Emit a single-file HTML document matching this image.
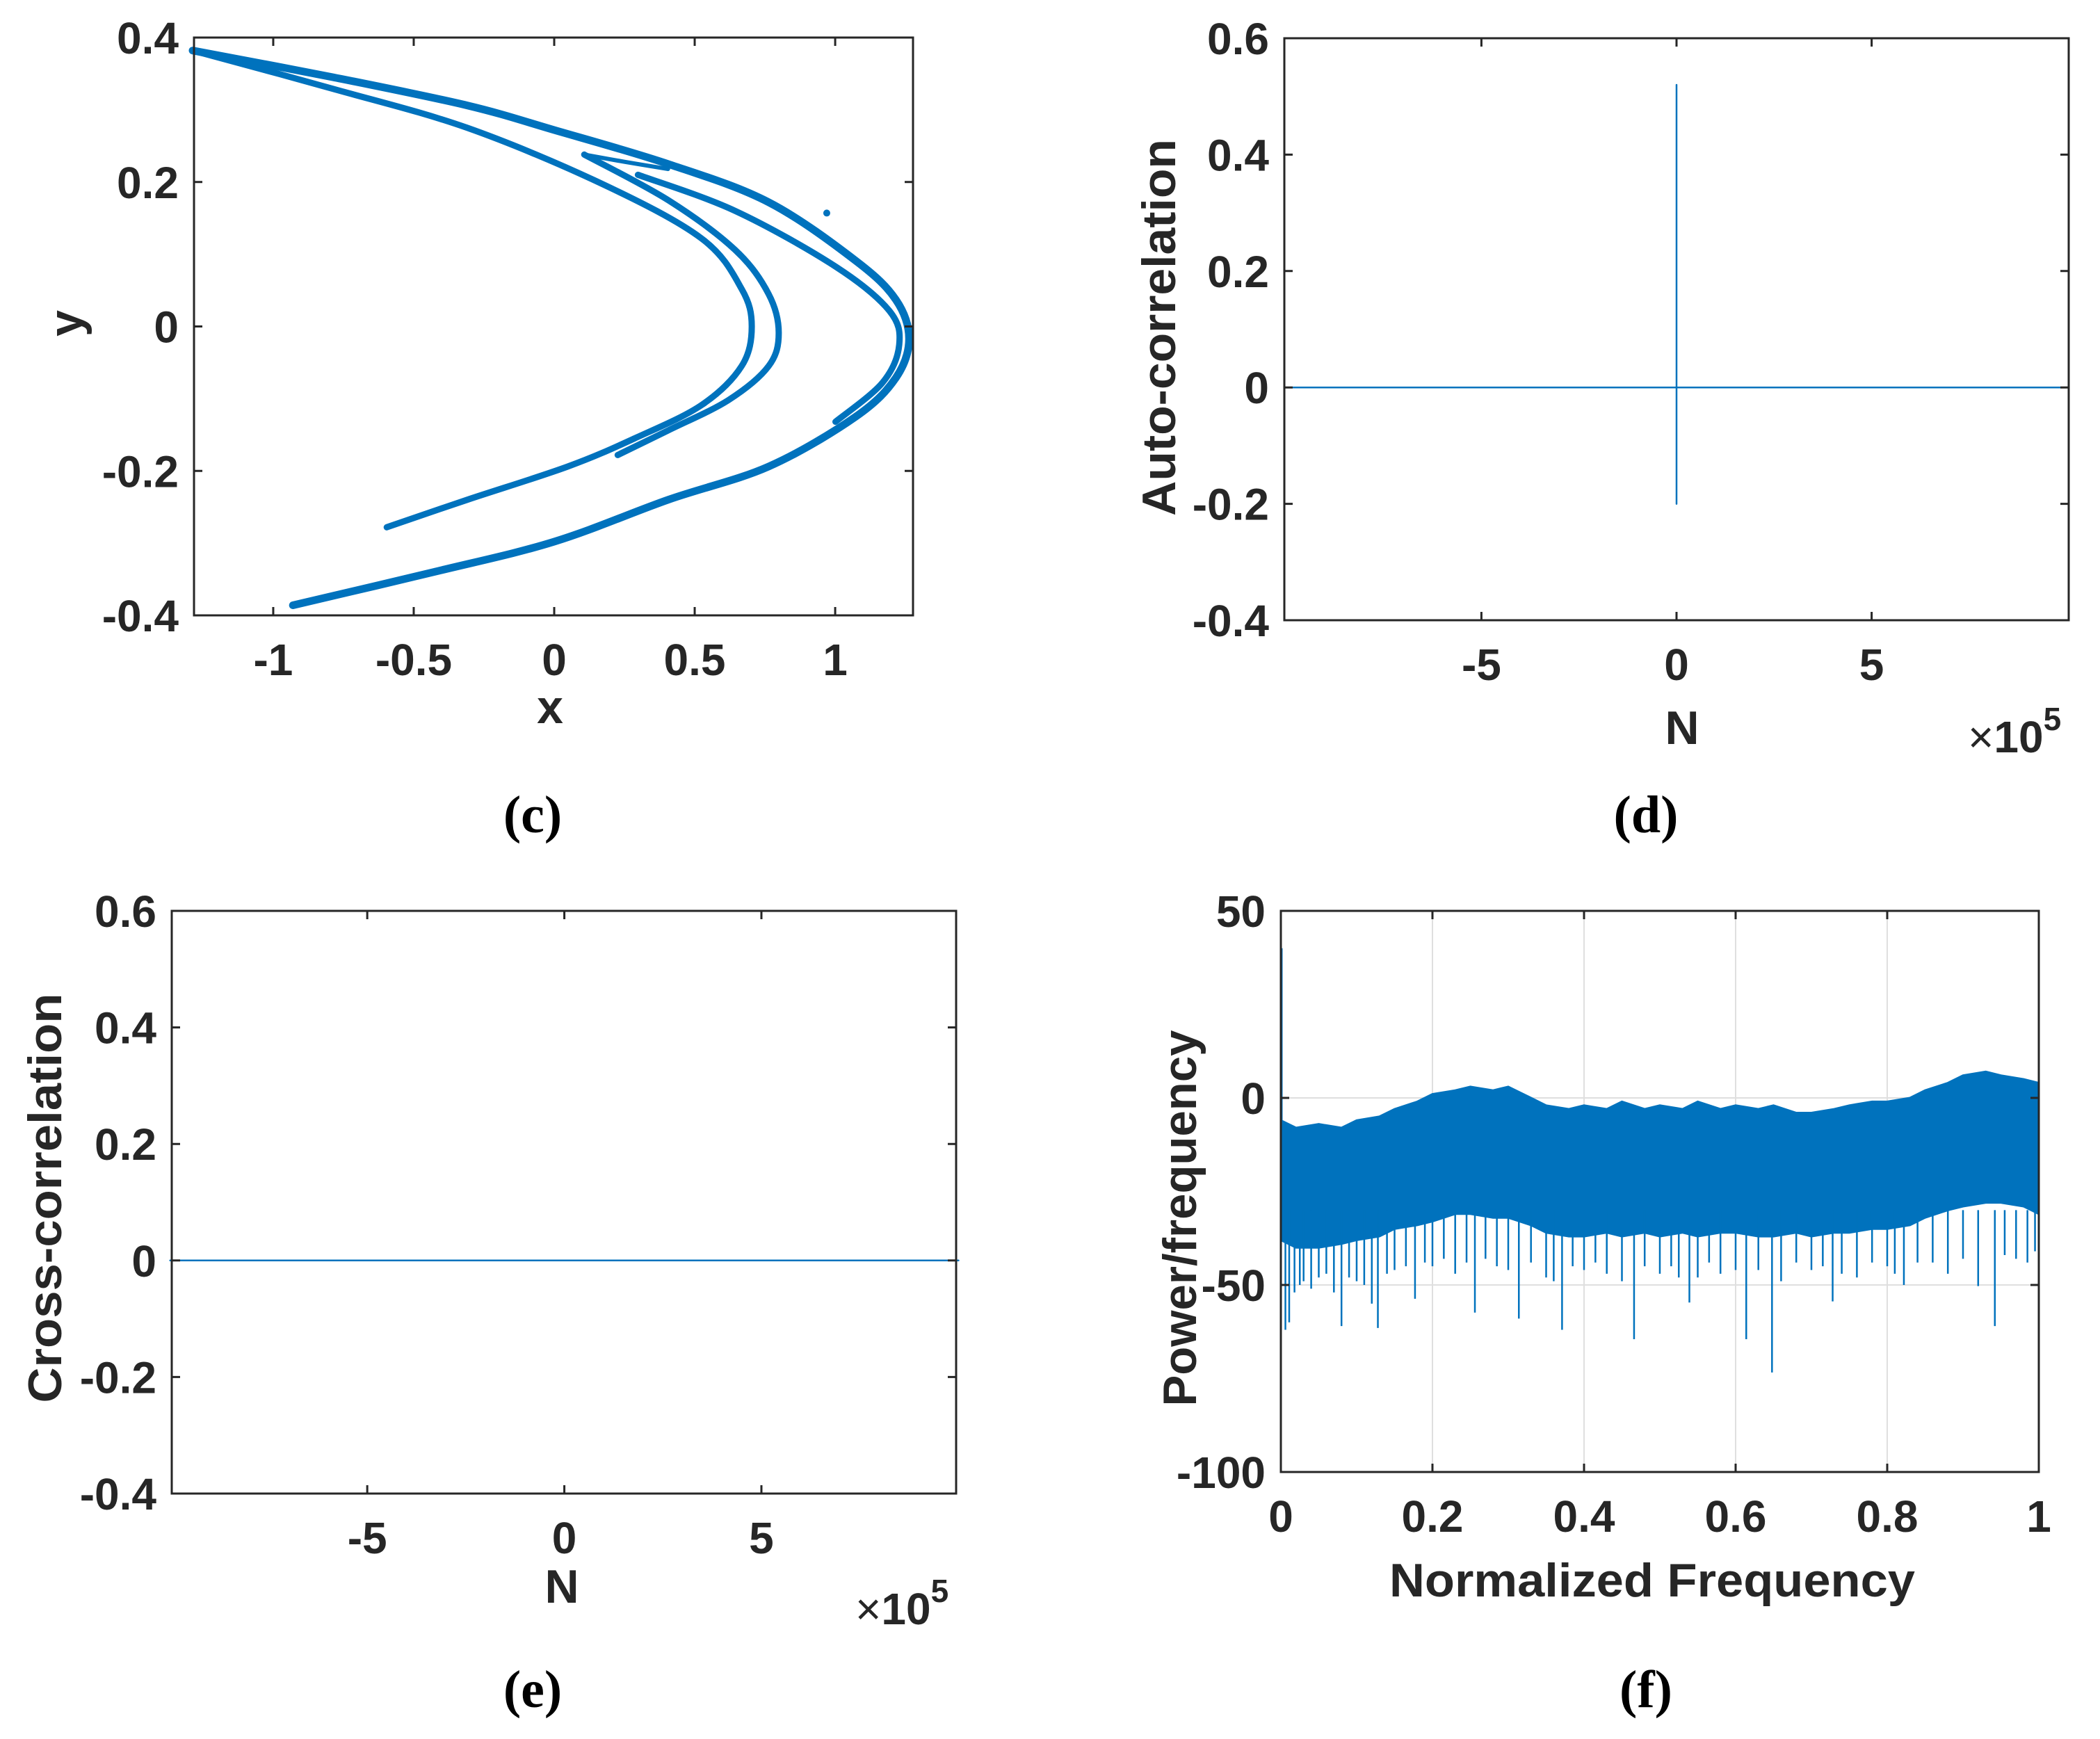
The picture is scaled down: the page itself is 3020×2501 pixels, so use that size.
<!DOCTYPE html>
<html>
<head>
<meta charset="utf-8">
<style>
html,body{margin:0;padding:0;background:#fff;}
svg{display:block;}
.tick{font-family:"Liberation Sans",sans-serif;font-weight:bold;font-size:64px;fill:#262626;}
.alab{font-family:"Liberation Sans",sans-serif;font-weight:bold;font-size:68px;fill:#262626;}
.plab{font-family:"Liberation Serif",serif;font-weight:bold;font-size:76px;fill:#000;}
</style>
</head>
<body>
<svg id="fig" xmlns="http://www.w3.org/2000/svg" width="3020" height="2501" viewBox="0 0 3020 2501">
<rect x="0" y="0" width="3020" height="2501" fill="#fff"/>
</svg>
<script>
// ---------- data ----------
var outerBranch = [[-1.287,0.382],[-0.787,0.345],[-0.31,0.306],[0,0.272],[0.405,0.225],[0.763,0.172],[1.073,0.091],[1.216,0.037],[1.263,-0.017],[1.216,-0.071],[1.073,-0.125],[0.763,-0.194],[0.405,-0.24],[0,-0.298],[-0.429,-0.34],[-0.93,-0.386]];
var innerBranch = [[-1.287,0.382],[-0.787,0.329],[-0.31,0.275],[0.167,0.198],[0.524,0.122],[0.667,0.052],[0.703,0],[0.667,-0.055],[0.524,-0.109],[0.286,-0.155],[0.048,-0.194],[-0.31,-0.24],[-0.596,-0.278]];
var foldBranch = [[0.107,0.238],[0.405,0.175],[0.644,0.106],[0.763,0.045],[0.799,-0.009],[0.763,-0.055],[0.62,-0.102],[0.405,-0.144],[0.226,-0.178]];
var foldTop = [[0.107,0.238],[0.25,0.228],[0.405,0.218]];
var secondOuter = [[0.298,0.21],[0.644,0.16],[1.001,0.083],[1.192,0.022],[1.228,-0.025],[1.168,-0.078],[1.001,-0.132]];
var strayPoints = [[0.97,0.157]];
var cXTicks = [-1,-0.5,0,0.5,1];
var cXTickLabels = ["-1","-0.5","0","0.5","1"];
var cYTicks = [-0.4,-0.2,0,0.2,0.4];
var cYTickLabels = ["-0.4","-0.2","0","0.2","0.4"];

var autoLags = [-10.05,0,0,0,0,10.05];
var autoValues = [0,0,0.52,-0.2,0,0];
var corrXTicks = [-5,0,5];
var corrXTickLabels = ["-5","0","5"];
var corrYTicks = [-0.4,-0.2,0,0.2,0.4,0.6];
var corrYTickLabels = ["-0.4","-0.2","0","0.2","0.4","0.6"];

var crossLags = [-10,-5,0,5,10];
var crossValues = [0,0,0,0,0];

var psdFreq = [0,0.02,0.05,0.08,0.1,0.13,0.15,0.18,0.2,0.23,0.25,0.28,0.3,0.33,0.35,0.38,0.4,0.43,0.45,0.48,0.5,0.53,0.55,0.58,0.6,0.63,0.65,0.68,0.7,0.73,0.75,0.78,0.8,0.83,0.85,0.88,0.9,0.93,0.95,0.98,1];
var psdUpper = [-6,-8,-7,-8,-6,-5,-3,-1,1,2,3,2,3,0,-2,-3,-2,-3,-1,-3,-2,-3,-1,-3,-2,-3,-2,-4,-4,-3,-2,-1,-1,0,2,4,6,7,6,5,4];
var psdLower = [-38,-40,-40,-39,-38,-37,-35,-34,-33,-31,-31,-32,-32,-34,-36,-37,-37,-36,-37,-36,-37,-36,-37,-36,-36,-37,-37,-36,-37,-36,-36,-35,-35,-34,-32,-30,-29,-28,-28,-29,-31];
var spikeFreq = [0.006,0.011,0.018,0.025,0.03,0.04,0.05,0.06,0.07,0.08,0.09,0.1,0.11,0.12,0.128,0.14,0.15,0.165,0.177,0.19,0.2,0.215,0.23,0.245,0.256,0.27,0.285,0.3,0.314,0.33,0.35,0.36,0.371,0.385,0.4,0.415,0.43,0.45,0.466,0.48,0.5,0.515,0.525,0.539,0.55,0.565,0.58,0.6,0.614,0.63,0.648,0.66,0.68,0.7,0.715,0.728,0.74,0.76,0.78,0.8,0.81,0.822,0.84,0.86,0.88,0.9,0.92,0.942,0.955,0.97,0.985,0.995];
var spikeValue = [-62,-60,-52,-50,-49,-51,-48,-47,-52,-61,-48,-49,-50,-55,-61.5,-47,-46,-45,-53.7,-44,-45,-43,-47,-44,-57.4,-43,-45,-46,-59,-44,-48,-49,-62,-45,-46,-44,-47,-49,-64.5,-45,-47,-45,-48,-54.7,-48,-44,-47,-46,-64.5,-46,-73.4,-49,-44,-46,-45,-54.4,-47,-48,-44,-45,-47,-50,-44,-44,-47,-43,-50.3,-61,-42,-43,-44,-41];
var dcSpike = [0,40];
var fXTicks = [0,0.2,0.4,0.6,0.8,1];
var fXTickLabels = ["0","0.2","0.4","0.6","0.8","1"];
var fYTicks = [-100,-50,0,50];
var fYTickLabels = ["-100","-50","0","50"];

// ---------- drawing ----------
var NS = "http://www.w3.org/2000/svg";
var svg = document.getElementById('fig');
var BLUE = "#0072BD", INK = "#262626";
function mk(tag, attrs, parent){
  var e = document.createElementNS(NS, tag);
  for (var k in attrs) e.setAttribute(k, attrs[k]);
  (parent||svg).appendChild(e);
  return e;
}
function scale(d0,d1,p0,p1){ return function(v){ return p0 + (v-d0)/(d1-d0)*(p1-p0); }; }

function gridLines(g, L,T,R,B, sx, sy, xt, yt){
  var i, e;
  for (i=0;i<xt.length;i++){
    e = mk('line',{x1:sx(xt[i]),x2:sx(xt[i]),y1:T,y2:B,stroke:"#dfdfdf","stroke-width":2},g);
    
    
  }
  for (i=0;i<yt.length;i++){
    e = mk('line',{x1:L,x2:R,y1:sy(yt[i]),y2:sy(yt[i]),stroke:"#dfdfdf","stroke-width":2},g);
    
    
  }
}
function axesBox(g, L,T,R,B, sx, sy, xt, xtl, yt, ytl){
  var i, e;
  e = mk('rect',{x:L,y:T,width:R-L,height:B-T,fill:"none",stroke:INK,"stroke-width":3},g);
  
  
  for (i=0;i<xt.length;i++){
    var x = sx(xt[i]);
    e = mk('path',{d:"M"+x+" "+B+"V"+(B-12)+"M"+x+" "+T+"V"+(T+12),stroke:INK,"stroke-width":3,fill:"none"},g);
    
    
    e = mk('text',{x:x,y:B+86,"text-anchor":"middle","class":"tick"},g);
    e.textContent = xtl[i];
    
    
  }
  for (i=0;i<yt.length;i++){
    var y = sy(yt[i]);
    e = mk('path',{d:"M"+L+" "+y+"H"+(L+12)+"M"+R+" "+y+"H"+(R-12),stroke:INK,"stroke-width":3,fill:"none"},g);
    
    
    e = mk('text',{x:L-22,y:y+23,"text-anchor":"end","class":"tick"},g);
    e.textContent = ytl[i];
    
    
  }
}
function txt(g, s, x, y, cls, rot, len){
  var a = {x:x,y:y,"text-anchor":"middle","class":cls};
  if (rot) a.transform = "rotate(-90 "+x+" "+y+")";
  if (len){ a.textLength = len; a.lengthAdjust = "spacingAndGlyphs"; }
  var e = mk('text',a,g);
  e.textContent = s;
  return e;
}
function poly(g, pts, sx, sy, w){
  var d = pts.map(function(p,i){ return (i?"L":"M")+sx(p[0]).toFixed(1)+" "+sy(p[1]).toFixed(1); }).join("");
  return mk('path',{d:d,fill:"none",stroke:BLUE,"stroke-width":w,"stroke-linecap":"round","stroke-linejoin":"round"},g);
}
function smooth(g, pts, sx, sy, w){
  var P = pts.map(function(p){ return [sx(p[0]), sy(p[1])]; });
  var d = "M"+P[0][0].toFixed(1)+" "+P[0][1].toFixed(1);
  for (var i=0;i<P.length-1;i++){
    var p0 = P[i>0?i-1:i], p1 = P[i], p2 = P[i+1], p3 = P[i+2<P.length?i+2:i+1];
    var c1x = p1[0]+(p2[0]-p0[0])/6, c1y = p1[1]+(p2[1]-p0[1])/6;
    var c2x = p2[0]-(p3[0]-p1[0])/6, c2y = p2[1]-(p3[1]-p1[1])/6;
    d += "C"+c1x.toFixed(1)+" "+c1y.toFixed(1)+" "+c2x.toFixed(1)+" "+c2y.toFixed(1)+" "+p2[0].toFixed(1)+" "+p2[1].toFixed(1);
  }
  return mk('path',{d:d,fill:"none",stroke:BLUE,"stroke-width":w,"stroke-linecap":"round","stroke-linejoin":"round"},g);
}

// ===== panel c =====
(function(){
  var L=279,T=54,R=1313,B=885;
  var g = mk('g',{});
  
  
  var sx = scale(-1.282,1.277,L,R), sy = scale(-0.4,0.4,B,T);
  var e;
  e = smooth(g, outerBranch, sx, sy, 11);
  
  
  e = smooth(g, secondOuter, sx, sy, 9);
  
  
  e = smooth(g, innerBranch, sx, sy, 9);
  
  
  e = smooth(g, foldBranch, sx, sy, 9);
  
  
  e = smooth(g, foldTop, sx, sy, 6);
  
  
  strayPoints.forEach(function(p){
    var c = mk('circle',{cx:sx(p[0]),cy:sy(p[1]),r:5,fill:BLUE},g);
    
    
  });
  axesBox(g,L,T,R,B,sx,sy,cXTicks,cXTickLabels,cYTicks,cYTickLabels);
  e = txt(g,"x",791,1040,"alab");
  
  
  e = txt(g,"y",118,465,"alab",true);
  
  
  e = txt(g,"(c)",766,1197,"plab");
  
  
})();

// ===== panel d =====
(function(){
  var L=1847,T=55,R=2975,B=892;
  var g = mk('g',{});
  
  
  var sx = scale(-10.05,10.05,L,R), sy = scale(-0.4,0.6,B,T);
  var pts = autoLags.map(function(v,i){ return [v, autoValues[i]]; });
  var e = poly(g, pts, sx, sy, 2.5);
  e.setAttribute('stroke-linecap','butt');
  
  
  axesBox(g,L,T,R,B,sx,sy,corrXTicks,corrXTickLabels,corrYTicks,corrYTickLabels);
  e = txt(g,"N",2419,1070,"alab");
  
  
  e = txt(g,"Auto-correlation",1690,471,"alab",true,542);
  
  
  e = mk('text',{x:2830,y:1082,"class":"tick"},g);
  e.innerHTML = '<tspan style="font-weight:normal">\u00d7</tspan>10<tspan dy="-32" font-size="46">5</tspan>';
  
  
  e = txt(g,"(d)",2367,1197,"plab");
  
  
})();

// ===== panel e =====
(function(){
  var L=247,T=1310,R=1375,B=2148;
  var g = mk('g',{});
  
  
  var sx = scale(-9.96,9.94,L,R), sy = scale(-0.4,0.6,B,T);
  var pts = crossLags.map(function(v,i){ return [v, crossValues[i]]; });
  var e = poly(g, pts, sx, sy, 2.5);
  
  
  axesBox(g,L,T,R,B,sx,sy,corrXTicks,corrXTickLabels,corrYTicks,corrYTickLabels);
  e = txt(g,"N",808,2305,"alab");
  
  
  e = txt(g,"Cross-correlation",88,1723,"alab",true,589);
  
  
  e = mk('text',{x:1230,y:2336,"class":"tick"},g);
  e.innerHTML = '<tspan style="font-weight:normal">\u00d7</tspan>10<tspan dy="-32" font-size="46">5</tspan>';
  
  
  e = txt(g,"(e)",766,2455,"plab");
  
  
})();

// ===== panel f =====
(function(){
  var L=1842,T=1310,R=2932,B=2117;
  var g = mk('g',{});
  
  
  var sx = scale(0,1,L,R), sy = scale(-100,50,B,T);
  gridLines(g,L,T,R,B,sx,sy,fXTicks,fYTicks);
  var i, d = "", e;
  for (i=0;i<psdFreq.length;i++) d += (i?"L":"M")+sx(psdFreq[i]).toFixed(1)+" "+sy(psdUpper[i]).toFixed(1);
  for (i=psdFreq.length-1;i>=0;i--) d += "L"+sx(psdFreq[i]).toFixed(1)+" "+sy(psdLower[i]).toFixed(1);
  e = mk('path',{d:d+"Z",fill:BLUE,stroke:BLUE,"stroke-width":3},g);
  
  
  for (i=0;i<spikeFreq.length;i++){
    var x = sx(spikeFreq[i]);
    e = mk('line',{x1:x,x2:x,y1:sy(-30),y2:sy(spikeValue[i]),stroke:BLUE,"stroke-width":2.5},g);
    
    
  }
  e = mk('line',{x1:sx(0)+1,x2:sx(0)+1,y1:sy(dcSpike[1]),y2:sy(-30),stroke:BLUE,"stroke-width":3},g);
  
  
  axesBox(g,L,T,R,B,sx,sy,fXTicks,fXTickLabels,fYTicks,fYTickLabels);
  e = txt(g,"Normalized Frequency",2376,2296,"alab",false,756);
  
  
  e = txt(g,"Power/frequency",1720,1752,"alab",true,541);
  
  
  e = txt(g,"(f)",2367,2455,"plab");
  
  
})();
</script>
</body>
</html>
